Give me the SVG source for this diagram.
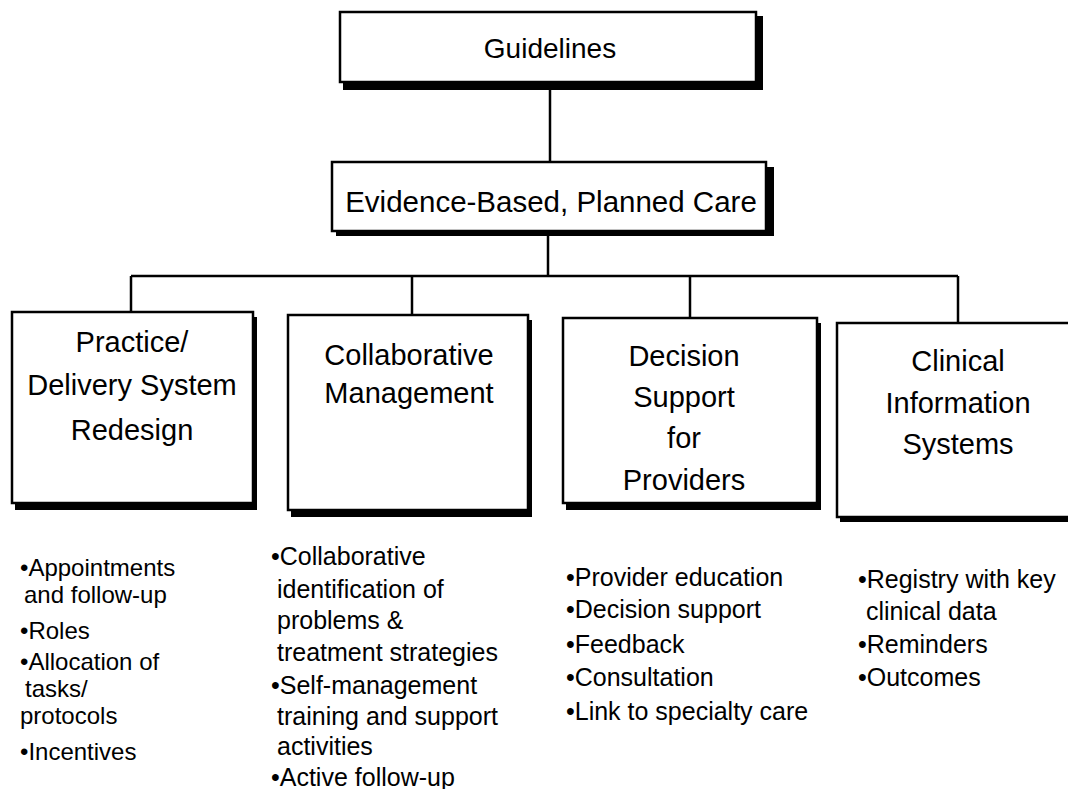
<svg xmlns="http://www.w3.org/2000/svg" width="1068" height="789" viewBox="0 0 1068 789">
<style>
.box{fill:#fff;stroke:#000;stroke-width:2.5}
.shadow{fill:#000}
.conn{stroke:#000;stroke-width:2.5;fill:none}
.title{font-family:"Liberation Sans",Arial,sans-serif;font-size:29px;fill:#000;text-anchor:middle}
.top{font-family:"Liberation Sans",Arial,sans-serif;font-size:28px;fill:#000;text-anchor:middle}
.list{font-family:"Liberation Sans",Arial,sans-serif;font-size:25px;fill:#000}
.tight{font-size:24px}
</style>
<rect width="1068" height="789" fill="#fff"/>
<g id="connectors">
<line class="conn" x1="550" y1="88" x2="550" y2="162"/>
<line class="conn" x1="548" y1="234" x2="548" y2="276"/>
<line class="conn" x1="131" y1="276" x2="958" y2="276"/>
<line class="conn" x1="131" y1="276" x2="131" y2="312"/>
<line class="conn" x1="412" y1="276" x2="412" y2="315"/>
<line class="conn" x1="690" y1="276" x2="690" y2="318"/>
<line class="conn" x1="958" y1="276" x2="958" y2="323"/>
</g>
<g id="guidelines">
<rect class="shadow" x="343" y="16" width="420" height="74"/>
<rect class="box" x="340" y="12" width="416" height="70" stroke-width="1.5"/>
<text class="top" x="550" y="58">Guidelines</text>
</g>
<g id="evidence">
<rect class="shadow" x="336" y="167" width="438" height="69"/>
<rect class="box" x="332" y="162" width="434" height="69"/>
<text class="top" x="551" y="212" style="font-size:29.5px">Evidence-Based, Planned Care</text>
</g>
<g id="practice">
<rect class="shadow" x="15" y="317" width="242" height="193"/>
<rect class="box" x="12" y="312" width="241" height="191"/>
<text class="title" x="132" y="352">Practice/</text>
<text class="title" x="132" y="395">Delivery System</text>
<text class="title" x="132" y="440">Redesign</text>
</g>
<g id="collaborative">
<rect class="shadow" x="291" y="320" width="241" height="197"/>
<rect class="box" x="288" y="315" width="240" height="195"/>
<text class="title" x="409" y="365">Collaborative</text>
<text class="title" x="409" y="403">Management</text>
</g>
<g id="decision">
<rect class="shadow" x="566" y="323" width="255" height="187"/>
<rect class="box" x="563" y="318" width="254" height="185"/>
<text class="title" x="684" y="366">Decision</text>
<text class="title" x="684" y="407">Support</text>
<text class="title" x="684" y="448">for</text>
<text class="title" x="684" y="490">Providers</text>
</g>
<g id="clinical">
<rect class="shadow" x="840" y="328" width="240" height="194"/>
<rect class="box" x="837" y="323" width="240" height="194"/>
<text class="title" x="958" y="371">Clinical</text>
<text class="title" x="958" y="413">Information</text>
<text class="title" x="958" y="454">Systems</text>
</g>
<g id="list-practice">
<text class="list tight" x="20" y="576">•Appointments</text>
<text class="list tight" x="24" y="603">and follow-up</text>
<text class="list tight" x="20" y="639">•Roles</text>
<text class="list tight" x="20" y="670">•Allocation of</text>
<text class="list tight" x="25" y="697">tasks/</text>
<text class="list tight" x="20" y="724">protocols</text>
<text class="list tight" x="20" y="760">•Incentives</text>
</g>
<g id="list-collaborative">
<text class="list" x="271" y="565">•Collaborative</text>
<text class="list" x="277" y="598">identification of</text>
<text class="list" x="277" y="629">problems &amp;</text>
<text class="list" x="277" y="661">treatment strategies</text>
<text class="list" x="271" y="694">•Self-management</text>
<text class="list" x="277" y="725">training and support</text>
<text class="list" x="277" y="755">activities</text>
<text class="list" x="271" y="786">•Active follow-up</text>
</g>
<g id="list-decision">
<text class="list" x="566" y="586">•Provider education</text>
<text class="list" x="566" y="618">•Decision support</text>
<text class="list" x="566" y="653">•Feedback</text>
<text class="list" x="566" y="686">•Consultation</text>
<text class="list" x="566" y="720">•Link to specialty care</text>
</g>
<g id="list-clinical">
<text class="list" x="858" y="588">•Registry with key</text>
<text class="list" x="866" y="620">clinical data</text>
<text class="list" x="858" y="653">•Reminders</text>
<text class="list" x="858" y="686">•Outcomes</text>
</g>
</svg>
